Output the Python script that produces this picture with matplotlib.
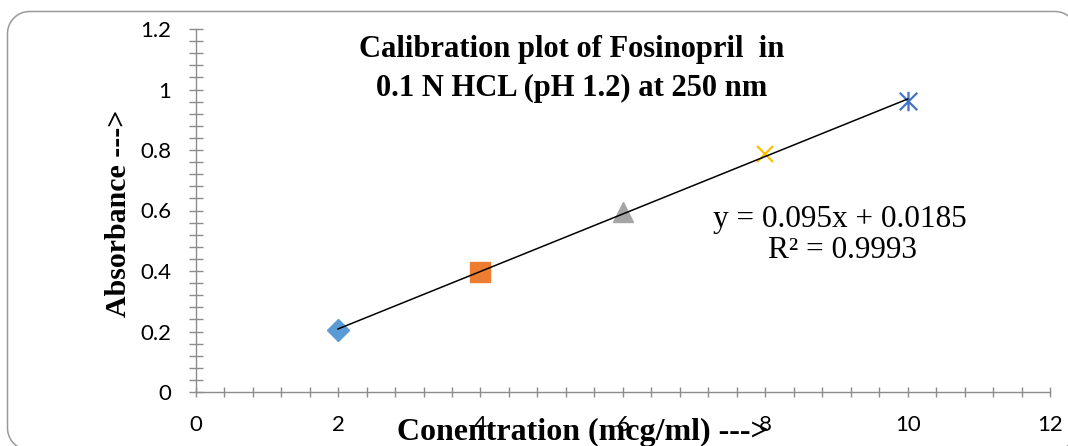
import numpy as np
import matplotlib
matplotlib.use("Agg")
import matplotlib.pyplot as plt
from matplotlib.path import Path
from matplotlib.lines import Line2D
from matplotlib.transforms import IdentityTransform
from matplotlib.ticker import MultipleLocator

# Calibration data: concentration (mcg/ml) vs absorbance
concentration = [2, 4, 6, 8, 10]
absorbance = [0.205, 0.397, 0.596, 0.786, 0.963]
marker_colors = ["#5B9BD5", "#ED7D31", "#A5A5A5", "#FFC000", "#4472C4"]

# Linear fit reported on the chart
slope = 0.095
intercept = 0.0185
r_squared = 0.9993

x_ticks = [0, 2, 4, 6, 8, 10, 12]
y_ticks = [0, 0.2, 0.4, 0.6, 0.8, 1.0, 1.2]
y_tick_labels = ["0", "0.2", "0.4", "0.6", "0.8", "1", "1.2"]

W, H, DPI = 1068, 446, 100
fig = plt.figure(figsize=(W / DPI, H / DPI), dpi=DPI)
ax = fig.add_axes([195.7 / W, (H - 392) / H, (1050 - 195.7) / W, (392 - 29) / H])

# Asterisk marker: vertical stroke plus two diagonals
star_path = Path(
    [(0, -1), (0, 1), (-0.9, -0.9), (0.9, 0.9), (-0.9, 0.9), (0.9, -0.9)],
    [Path.MOVETO, Path.LINETO, Path.MOVETO, Path.LINETO, Path.MOVETO, Path.LINETO],
)

styles = [
    dict(marker="D", ms=11, mfc=marker_colors[0], mec=marker_colors[0]),
    dict(marker="s", ms=14.5, mfc=marker_colors[1], mec=marker_colors[1]),
    dict(marker="^", ms=15, mfc=marker_colors[2], mec=marker_colors[2]),
    dict(marker="x", ms=12, mec=marker_colors[3], mew=1.6),
    dict(marker=star_path, ms=14, mec=marker_colors[4], mfc="none", mew=1.6),
]
for xv, yv, st in zip(concentration, absorbance, styles):
    ax.plot([xv], [yv], linestyle="none", zorder=3, clip_on=False, **st)

# Trend line over the measured range
x_fit = [min(concentration), max(concentration)]
y_fit = [slope * v + intercept for v in x_fit]
ax.plot(x_fit, y_fit, color="black", lw=1.1, zorder=4)

tick_font = "Lato"
ax.set_xlim(0, 12)
ax.set_ylim(0, 1.2)
ax.set_xticks(x_ticks)
ax.set_xticklabels([str(t) for t in x_ticks], fontsize=16, family=tick_font)
ax.set_yticks(y_ticks)
ax.set_yticklabels(y_tick_labels, fontsize=16, family=tick_font)
ax.xaxis.set_minor_locator(MultipleLocator(0.4))
ax.yaxis.set_minor_locator(MultipleLocator(0.04))

axis_gray = "#8C8C8C"
for side in ("top", "right"):
    ax.spines[side].set_visible(False)
for side in ("left", "bottom"):
    ax.spines[side].set_color(axis_gray)
    ax.spines[side].set_linewidth(1.0)

ax.tick_params(axis="both", which="both", direction="inout", color=axis_gray, width=1.0)
ax.tick_params(axis="y", which="both", length=9.5)
ax.tick_params(axis="y", which="major", pad=13)
ax.tick_params(axis="x", which="both", length=7.5)
ax.tick_params(axis="x", which="major", pad=13)

serif = "Liberation Serif"
fig.text(572 / W, 1 - 50 / H, "Calibration plot of Fosinopril  in",
         ha="center", va="center", fontsize=22, fontweight="bold", family=serif)
fig.text(572 / W, 1 - 88 / H, "0.1 N HCL (pH 1.2) at 250 nm",
         ha="center", va="center", fontsize=22, fontweight="bold", family=serif)

fig.text(840 / W, 1 - 219 / H, f"y = {slope}x + {intercept}",
         ha="center", va="center", fontsize=22.5, family=serif)
fig.text(842 / W, 1 - 251 / H, f"R² = {r_squared}",
         ha="center", va="center", fontsize=22.5, family=serif)

fig.text(118 / W, 1 - 213 / H, "Absorbance --->", rotation=90,
         ha="center", va="center", fontsize=21.5, fontweight="bold", family=serif)
fig.text(583 / W, 1 - 432 / H, "Conentration (mcg/ml) --->",
         ha="center", va="center", fontsize=23, fontweight="bold", family=serif)

# Rounded chart frame as a polyline in pixel coordinates
def rounded_rect(x0, y0, x1, y1, r, n=16):
    corners = [(x1 - r, y1 - r, 0.0), (x0 + r, y1 - r, 90.0),
               (x0 + r, y0 + r, 180.0), (x1 - r, y0 + r, 270.0)]
    xs, ys = [], []
    for cx, cy, start in corners:
        ang = np.radians(np.linspace(start, start + 90.0, n))
        xs.extend(cx + r * np.cos(ang))
        ys.extend(cy + r * np.sin(ang))
    xs.append(xs[0])
    ys.append(ys[0])
    return xs, ys

fx, fy = rounded_rect(7.5, -4.0, 1077.0, H - 11.5, 22.0)
frame = Line2D(fx, fy, transform=IdentityTransform(), color="#9A9A9A", lw=1.1)
fig.add_artist(frame)

fig.savefig("out.png", dpi=DPI)
